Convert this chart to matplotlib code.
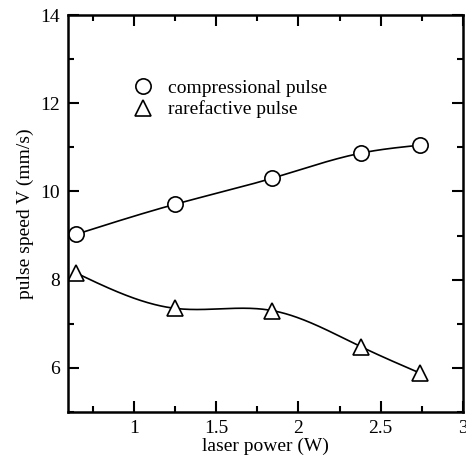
import numpy as np
import matplotlib
matplotlib.use('Agg')
import matplotlib.pyplot as plt
from matplotlib.ticker import MultipleLocator

# data
power_comp = [0.65, 1.25, 1.84, 2.38, 2.74]
speed_comp = [9.03, 9.71, 10.30, 10.87, 11.05]
power_rare = [0.65, 1.25, 1.84, 2.38, 2.74]
speed_rare = [8.15, 7.35, 7.30, 6.48, 5.88]


def natural_spline(x, y, n=300):
    # natural cubic spline through the points
    x = np.asarray(x, float)
    y = np.asarray(y, float)
    k = len(x)
    h = np.diff(x)
    A = np.zeros((k, k))
    b = np.zeros(k)
    A[0, 0] = 1
    A[-1, -1] = 1
    for i in range(1, k - 1):
        A[i, i - 1] = h[i - 1]
        A[i, i] = 2 * (h[i - 1] + h[i])
        A[i, i + 1] = h[i]
        b[i] = 6 * ((y[i + 1] - y[i]) / h[i] - (y[i] - y[i - 1]) / h[i - 1])
    M = np.linalg.solve(A, b)
    xs = np.linspace(x[0], x[-1], n)
    ys = np.zeros_like(xs)
    for j, t in enumerate(xs):
        i = min(np.searchsorted(x, t) - 1, k - 2)
        i = max(i, 0)
        a = x[i + 1] - t
        c = t - x[i]
        ys[j] = (M[i] * a ** 3 / (6 * h[i]) + M[i + 1] * c ** 3 / (6 * h[i])
                 + (y[i] / h[i] - M[i] * h[i] / 6) * a
                 + (y[i + 1] / h[i] - M[i + 1] * h[i] / 6) * c)
    return xs, ys


plt.rcParams['font.family'] = ['Liberation Serif', 'DejaVu Serif']
plt.rcParams['font.size'] = 14

fig = plt.figure(figsize=(4.66, 4.57), dpi=100)
ax = fig.add_axes([0.146, 0.0985, 0.8476, 0.8685])

# curvas suaves
xs, ys = natural_spline(power_comp, speed_comp)
ax.plot(xs, ys, color='black', lw=1.2)
xs, ys = natural_spline(power_rare, speed_rare)
ax.plot(xs, ys, color='black', lw=1.2)

ax.plot(power_comp, speed_comp, 'o', ms=11, mfc='white', mec='black', mew=1.2,
        label='compressional pulse')
ax.plot(power_rare, speed_rare, '^', ms=11, mfc='white', mec='black', mew=1.2,
        label='rarefactive pulse')

ax.set_xlim(0.6, 3)
ax.set_ylim(5, 14)
ax.xaxis.set_minor_locator(MultipleLocator(0.25))
ax.yaxis.set_major_locator(MultipleLocator(2))
ax.yaxis.set_minor_locator(MultipleLocator(1))
ax.set_xticks([1, 1.5, 2, 2.5, 3])
ax.set_xticklabels(['1', '1.5', '2', '2.5', '3'])

ax.tick_params(which='both', direction='in', top=True, right=True, width=1.5)
ax.tick_params(which='major', length=8, pad=6)
ax.tick_params(which='minor', length=4)
for s in ax.spines.values():
    s.set_linewidth(1.8)

ax.set_xlabel('laser power (W)', labelpad=0)
ax.set_ylabel('pulse speed V (mm/s)', labelpad=4)

ax.legend(loc='upper left', bbox_to_anchor=(0.115, 0.883), frameon=False,
          handletextpad=0.7, labelspacing=0.2, handlelength=1.2)

fig.savefig('out.png', dpi=100)
